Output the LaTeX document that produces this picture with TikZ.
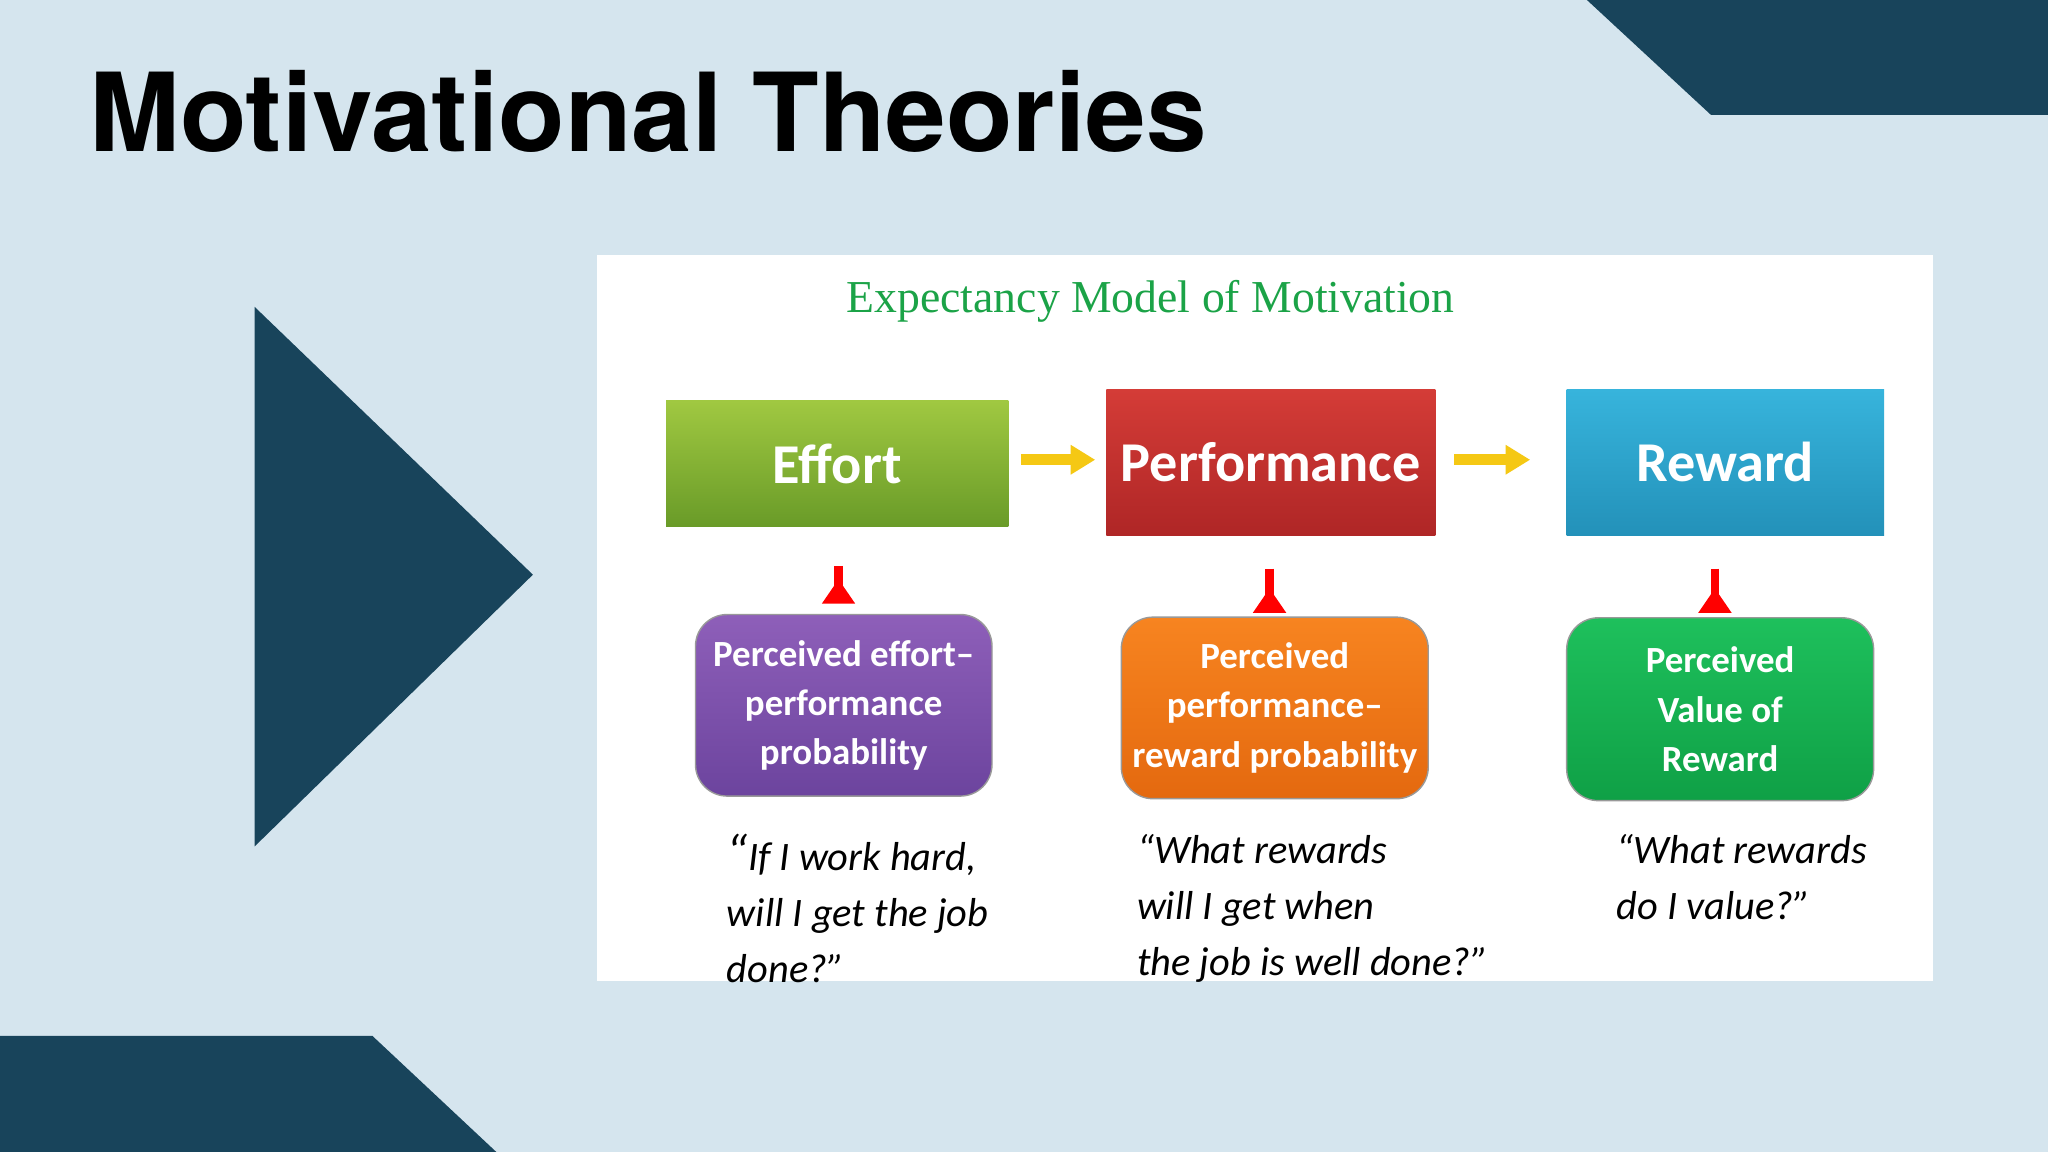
\documentclass[tikz,border=0pt]{standalone}
\usepackage{fontspec}
\setmainfont{Carlito}
\newfontfamily\titlefont{TeX Gyre Heros}
\newfontfamily\serifx{Liberation Serif}
\usetikzlibrary{arrows.meta}
\definecolor{bg}{HTML}{D5E5EE}
\definecolor{dark}{HTML}{18445B}
\definecolor{tgreen}{HTML}{1BA347}
\begin{document}
\begin{tikzpicture}[x=0.013061cm,y=-0.013061cm,
  big/.style={draw=none,text=white,font=\bfseries\fontsize{16}{18}\selectfont,inner sep=0pt},
  small/.style={rounded corners=9pt,draw=black!40,text=white,font=\bfseries\fontsize{10.5}{14}\selectfont,align=center,inner sep=0pt},
  quote/.style={anchor=north west,align=left,font=\itshape\fontsize{11.5}{16}\selectfont,inner sep=0pt},
  yarr/.style={-{Triangle[length=7pt,width=8pt]},line width=3pt,draw={rgb,255:red,245;green,200;blue,20}},
  rarr/.style={-{Triangle[length=7pt,width=9pt]},line width=2.5pt,draw=red,shorten >=15,shorten <=14}]
\fill[bg] (0,0) rectangle (1568,882);
\useasboundingbox (0,0) rectangle (1568,882);
\fill[dark] (1215,0) -- (1568,0) -- (1568,88) -- (1310,88) -- cycle;
\fill[dark] (0,793) -- (285,793) -- (380,882) -- (0,882) -- cycle;
\fill[dark] (195,235) -- (408,440) -- (195,648) -- cycle;
\node[anchor=base west,inner sep=0pt,font=\titlefont\bfseries\fontsize{31}{36}\selectfont] (title) at (68,116) {Motivational Theories};
\fill[white] (457,195) rectangle (1480,751);
\node[font=\serifx\fontsize{13}{15}\selectfont,text=tgreen] (sub) at (881,231) {Expectancy Model of Motivation};
\node[big,minimum width=262*0.013061cm,minimum height=96*0.013061cm,top color={rgb,255:red,160;green,200;blue,65},bottom color={rgb,255:red,105;green,155;blue,40}] (effort) at (641,355) {Effort};
\node[big,minimum width=252*0.013061cm,minimum height=112*0.013061cm,top color={rgb,255:red,212;green,60;blue,55},bottom color={rgb,255:red,175;green,38;blue,38}] (perf) at (973,354) {Performance};
\node[big,minimum width=243*0.013061cm,minimum height=112*0.013061cm,top color={rgb,255:red,55;green,180;blue,220},bottom color={rgb,255:red,35;green,145;blue,185}] (rew) at (1321,354) {Reward};
\node[small,minimum width=227*0.013061cm,minimum height=139*0.013061cm,top color={rgb,255:red,142;green,95;blue,185},bottom color={rgb,255:red,108;green,68;blue,158}] (pe) at (646,540) {Perceived effort--\\performance\\probability};
\node[small,minimum width=235*0.013061cm,minimum height=139*0.013061cm,top color={rgb,255:red,247;green,132;blue,32},bottom color={rgb,255:red,228;green,105;blue,15}] (pp) at (976,542) {Perceived\\performance--\\reward probability};
\node[small,minimum width=235*0.013061cm,minimum height=140*0.013061cm,top color={rgb,255:red,30;green,192;blue,92},bottom color={rgb,255:red,15;green,160;blue,70}] (pv) at (1317,543) {Perceived\\Value of\\Reward};
\draw[yarr] (effort.east) ++(9,-3) -- ++(57,0);
\draw[yarr] (perf.east) ++(14,-2) -- ++(58,0);
\draw[rarr] (642,471) -- (642,403);
\draw[rarr] (972,473) -- (972,410);
\draw[rarr] (1313,473) -- (1313,410);
\node[quote] (q1) at (556,638) {{\Large“}If I work hard,\\will I get the job\\done?”};
\node[quote] (q2) at (870,638) {“What rewards\\will I get when\\the job is well done?”};
\node[quote] (q3) at (1237,638) {“What rewards\\do I value?”};
\end{tikzpicture}
\end{document}
